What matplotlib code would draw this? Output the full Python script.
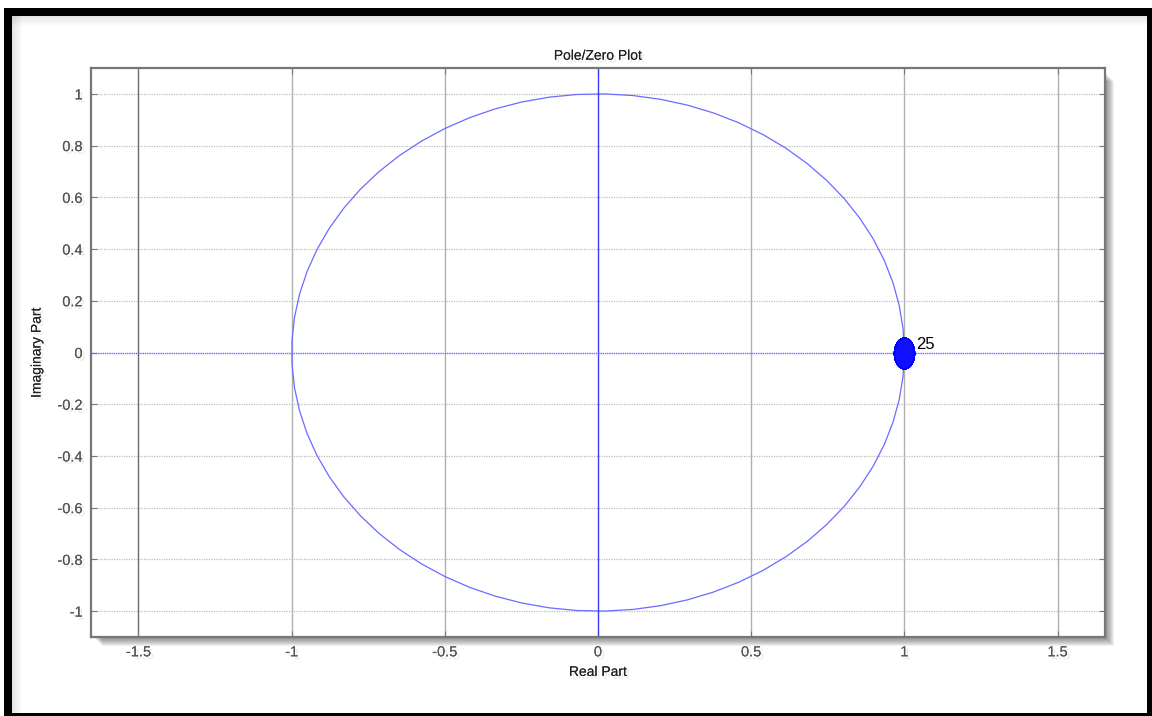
import numpy as np
import matplotlib
matplotlib.use("Agg")
import matplotlib.pyplot as plt
import matplotlib.patheffects as pe
from matplotlib.patches import Rectangle
from matplotlib.path import Path
from matplotlib.transforms import Affine2D

plt.rcParams['font.family'] = ['Liberation Sans', 'DejaVu Sans']

# Zeros of the filter: 25 zeros at z = 1
zeros_re = [1.0] * 25
zeros_im = [0.0] * 25
zero_count_label = "25"

x_ticks = [-1.5, -1, -0.5, 0, 0.5, 1, 1.5]
x_tick_labels = ["-1.5", "-1", "-0.5", "0", "0.5", "1", "1.5"]
y_ticks = [-1, -0.8, -0.6, -0.4, -0.2, 0, 0.2, 0.4, 0.6, 0.8, 1]
y_tick_labels = ["-1", "-0.8", "-0.6", "-0.4", "-0.2", "0", "0.2", "0.4", "0.6", "0.8", "1"]

W, H = 1152, 716
fig = plt.figure(figsize=(W / 100, H / 100), dpi=100)
fig.patch.set_facecolor("white")

def px_rect(x0, y0, x1, y1, **kw):
    """Rectangle given in pixel coordinates (origin top-left)."""
    r = Rectangle((x0 / W, 1 - y1 / H), (x1 - x0) / W, (y1 - y0) / H,
                  transform=fig.transFigure, **kw)
    fig.patches.append(r)
    return r

# Black frame around the figure
px_rect(4, 8, 1152, 16, facecolor="black", edgecolor="none", zorder=5)
px_rect(4, 8, 12, 716, facecolor="black", edgecolor="none", zorder=5)
px_rect(1147, 8, 1152, 716, facecolor="black", edgecolor="none", zorder=5)
px_rect(4, 713, 1152, 716, facecolor="black", edgecolor="none", zorder=5)

# Soft inner shading along the frame
for i in range(10):
    a = 0.10 * (1 - i / 10)
    px_rect(12, 16 + i, 1147, 17 + i, facecolor="black", alpha=a, edgecolor="none", zorder=4)
    px_rect(12 + i, 16, 13 + i, 713, facecolor="black", alpha=a, edgecolor="none", zorder=4)

# Axes box position
ax_l, ax_r, ax_t, ax_b = 91, 1105, 68, 637
ax = fig.add_axes([ax_l / W, 1 - ax_b / H, (ax_r - ax_l) / W, (ax_b - ax_t) / H])
ax.set_zorder(3)

# Drop shadow behind the axes box
for i in range(8):
    px_rect(ax_l + 4 + i, ax_t + 6 + i, ax_r + 2 + i, ax_b + 2 + i,
            facecolor="black", alpha=0.06, edgecolor="none", zorder=1)

ax.set_xlim(-1.655, 1.655)
ax.set_ylim(-1.1, 1.1)

# Grid: solid vertical lines, dotted horizontal lines
for xv in x_ticks:
    col = "#6a6a6a" if xv == -1.5 else "#b0b0b0"
    if xv != 0:
        ax.axvline(xv, color=col, lw=1.0, zorder=1)
for yv in y_ticks:
    if yv != 0:
        ax.axhline(yv, color="#bdbdbd", lw=0.9, ls=(0, (1, 1)), zorder=1)

# Unit circle
theta = np.linspace(0, 2 * np.pi, 70)
ax.plot(np.cos(theta), np.sin(theta), color="#6b6bff", lw=0.9, zorder=2)

# Real and imaginary axes
ax.axvline(0, color="#3a3aff", lw=1.0, zorder=2)
ax.axhline(0, color="#6a6aff", lw=1.0, ls=(0, (1, 0.6)), zorder=2)

# Zeros (stacked markers of the repeated zero)
zero_marker = Path.unit_circle().transformed(Affine2D().scale(0.65, 1.0))
ax.plot(zeros_re, zeros_im, linestyle="none", marker=zero_marker, markersize=22,
        markerfacecolor="#1010ff", markeredgecolor="#0000ff", zorder=4)
ax.text(zeros_re[0] + 0.04, zeros_im[0] + 0.03, zero_count_label, fontsize=12,
        color="black", va="center", ha="left", zorder=5)

shadow = [pe.withSimplePatchShadow(offset=(2, -2), shadow_rgbFace="#999999", alpha=0.2),
          pe.Normal()]

ax.set_xticks(x_ticks)
ax.set_xticklabels(x_tick_labels)
ax.set_yticks(y_ticks)
ax.set_yticklabels(y_tick_labels)
ax.tick_params(axis="both", direction="in", length=4, width=0.8, color="#777777",
               labelcolor="#555555", labelsize=10.5, top=True, right=True, pad=6)
for lbl in ax.get_xticklabels() + ax.get_yticklabels():
    lbl.set_path_effects(shadow)

for sp in ax.spines.values():
    sp.set_color("#777777")
    sp.set_linewidth(1.6)

ax.set_title("Pole/Zero Plot", fontsize=10, color="#222222", pad=6, path_effects=shadow)
ax.set_xlabel("Real Part", fontsize=10, color="#222222", labelpad=4, path_effects=shadow)
ax.set_ylabel("Imaginary Part", fontsize=10, color="#222222", labelpad=10, path_effects=shadow)

fig.savefig("out.png", dpi=100, facecolor="white")
